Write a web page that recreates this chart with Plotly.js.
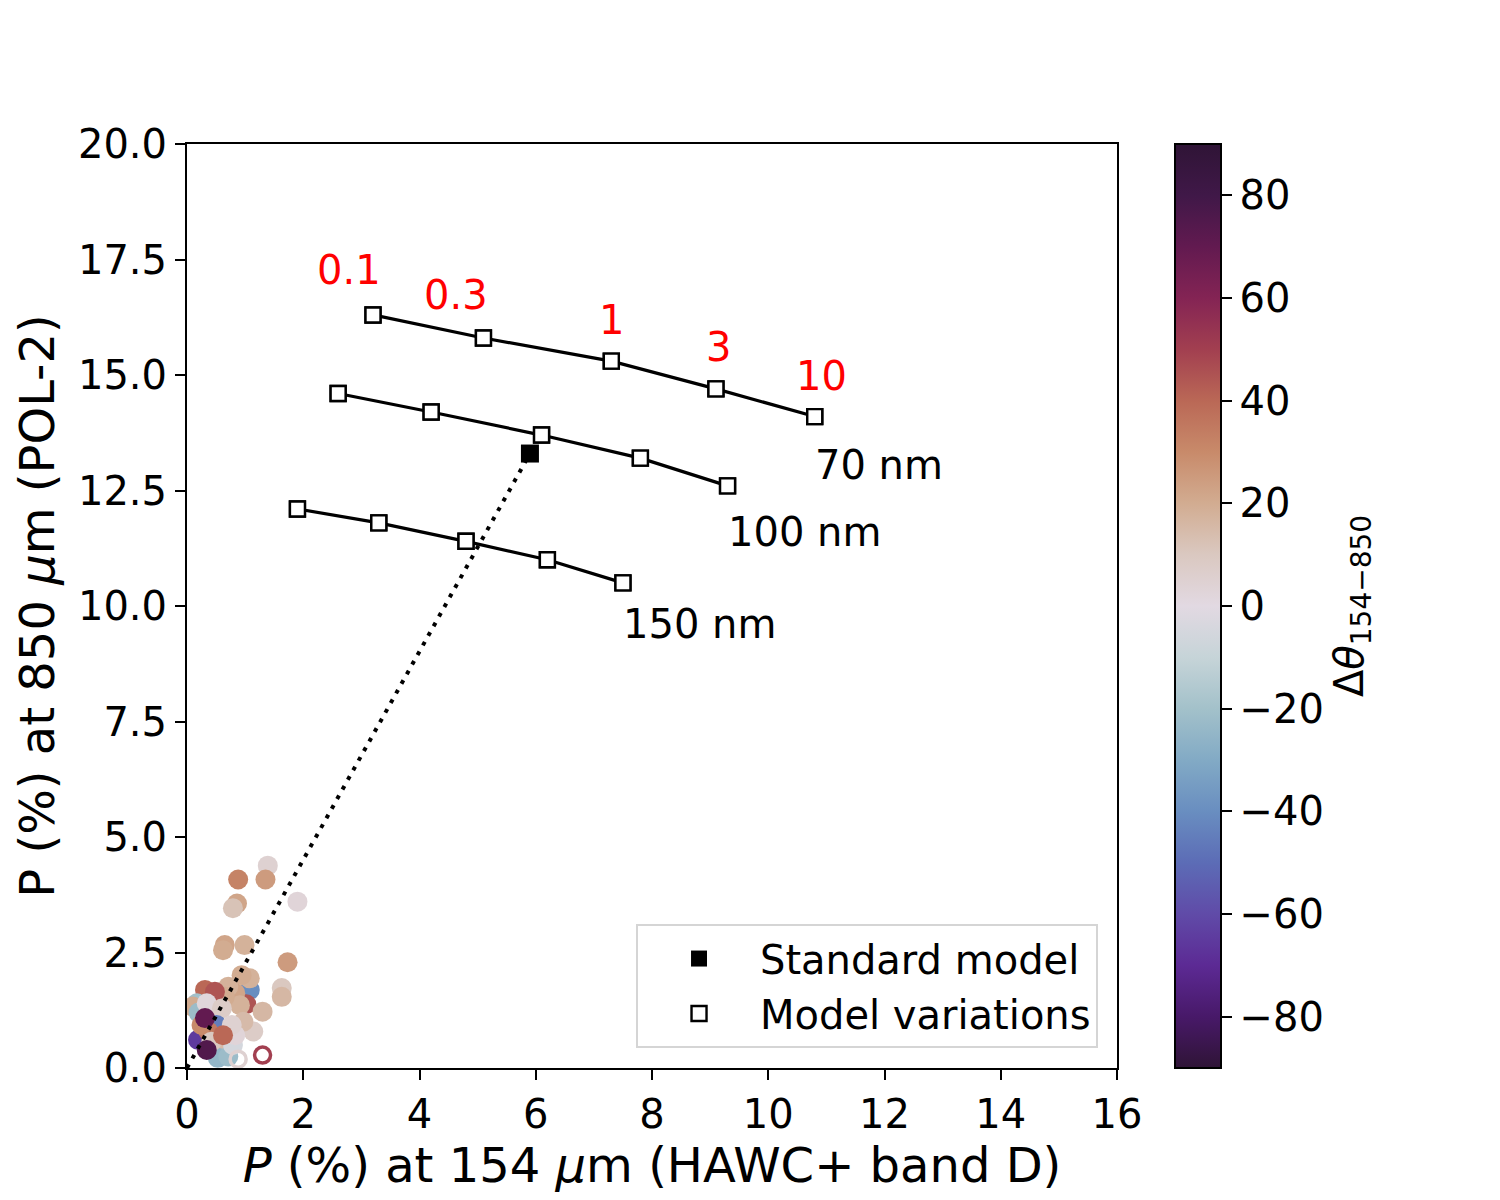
<!DOCTYPE html>
<html>
<head>
<meta charset="utf-8">
<script src="https://cdn.plot.ly/plotly-3.0.1.min.js"></script>
<style>html,body{margin:0;padding:0;background:#fff;}</style>
</head>
<body>
<div id="chart" style="width:1500px;height:1200px;"></div>
<script>
// Observed points: P at 154 um, P at 850 um, angle difference
const obsX = [1.08, 1.02, 1.39, 0.88, 1.35, 0.86, 0.79, 1.90, 0.65, 0.62, 0.99, 1.73, 1.63, 1.63, 1.30, 1.14,
              1.08, 0.94, 0.83, 0.91, 0.97, 0.71, 0.65, 0.31, 0.48, 0.17, 0.10, 0.20, 0.34, 0.60,
              0.51, 0.19, 0.51, 0.53, 0.71, 0.79, 0.83, 0.77, 0.37, 0.25, 0.42, 0.34, 0.31, 0.62];
const obsY = [1.69, 1.38, 4.38, 4.08, 4.08, 3.56, 3.46, 3.60, 2.66, 2.55, 2.66, 2.29, 1.73, 1.54, 1.22, 0.79,
              1.94, 2.01, 1.62, 1.36, 1.00, 1.76, 1.54, 1.69, 1.65, 1.40, 1.33, 1.20, 1.40, 1.29,
              0.93, 0.61, 0.39, 0.22, 0.25, 0.50, 0.71, 0.93, 0.79, 0.93, 0.57, 0.39, 1.08, 0.71];
const obsDTheta = [-40, 45, 5, 32, 25, 22, 12, 3, 22, 20, 18, 25, 10, 16, 16, 8,
                   18, 20, 22, 18, 15, 18, 20, 40, 45, -20, 20, -22, 2, 8,
                   -45, -65, 15, -25, -22, -5, 3, 5, 35, 30, 10, 75, 70, 40];
// Hollow (flagged) points
const hollowX = [1.30, 0.88];
const hollowY = [0.28, 0.19];
const hollowDTheta = [50, 5];

// Model variation tracks (grain sizes)
const m70X = [3.2, 5.1, 7.3, 9.1, 10.8];
const m70Y = [16.3, 15.8, 15.3, 14.7, 14.1];
const m100X = [2.6, 4.2, 6.1, 7.8, 9.3];
const m100Y = [14.6, 14.2, 13.7, 13.2, 12.6];
const m150X = [1.9, 3.3, 4.8, 6.2, 7.5];
const m150Y = [12.1, 11.8, 11.4, 11.0, 10.5];
const trackNames = ["70 nm", "100 nm", "150 nm"];
const trackLabelX = [10.8, 9.3, 7.5];
const trackLabelY = [13.05, 11.6, 9.6];

// Standard model
const stdX = [5.9];
const stdY = [13.3];
// Proportional (dotted) line through origin and the standard model
const dotX = [0, 5.9];
const dotY = [0, 13.3];

// Red parameter labels above the 70 nm track
const parLabels = ["0.1", "0.3", "1", "3", "10"];
const parLabelX = [2.79, 4.63, 7.31, 9.14, 10.92];
const parLabelY = [17.27, 16.73, 16.19, 15.61, 14.98];

const colorTicks = [-80, -60, -40, -20, 0, 20, 40, 60, 80];
const xTicks = [0, 2, 4, 6, 8, 10, 12, 14, 16];
const yTicks = [0, 2.5, 5, 7.5, 10, 12.5, 15, 17.5, 20];

const FONT = "DejaVu Sans, Liberation Sans, sans-serif";

const twilightShifted = [
  [0.000, "rgb(47,20,54)"],
  [0.056, "rgb(72,25,105)"],
  [0.111, "rgb(92,42,148)"],
  [0.167, "rgb(96,75,168)"],
  [0.222, "rgb(92,108,182)"],
  [0.278, "rgb(105,142,192)"],
  [0.333, "rgb(130,170,197)"],
  [0.389, "rgb(163,193,202)"],
  [0.444, "rgb(198,212,216)"],
  [0.500, "rgb(226,217,226)"],
  [0.556, "rgb(218,200,192)"],
  [0.611, "rgb(210,172,145)"],
  [0.667, "rgb(200,138,106)"],
  [0.722, "rgb(186,104,86)"],
  [0.778, "rgb(162,63,80)"],
  [0.833, "rgb(132,36,84)"],
  [0.889, "rgb(98,26,80)"],
  [0.944, "rgb(64,24,72)"],
  [1.000, "rgb(47,20,54)"]
];

const traces = [];
traces.push({
  x: obsX, y: obsY, type: "scatter", mode: "markers", showlegend: false, hoverinfo: "skip",
  marker: {symbol: "circle", size: 20, color: obsDTheta, coloraxis: "coloraxis", line: {width: 0}}
});
traces.push({
  x: hollowX, y: hollowY, type: "scatter", mode: "markers", showlegend: false, hoverinfo: "skip",
  marker: {symbol: "circle-open", size: 16, color: hollowDTheta, coloraxis: "coloraxis", line: {width: 3.5}}
});
traces.push({
  x: dotX, y: dotY, type: "scatter", mode: "lines", showlegend: false, hoverinfo: "skip",
  line: {color: "black", width: 4, dash: "4px,7px"}
});
[[m70X, m70Y], [m100X, m100Y], [m150X, m150Y]].forEach(function (t) {
  traces.push({
    x: t[0], y: t[1], type: "scatter", mode: "lines+markers", showlegend: false, hoverinfo: "skip",
    line: {color: "black", width: 3.2},
    marker: {symbol: "square", size: 15, color: "white", line: {color: "black", width: 2.4}}
  });
});
traces.push({
  x: m70X.concat(m100X, m150X), y: m70Y.concat(m100Y, m150Y), type: "scatter", mode: "markers",
  name: "Model variations", legendrank: 2, hoverinfo: "skip",
  marker: {symbol: "square", size: 15, color: "white", line: {color: "black", width: 2.4}}
});
traces.push({
  x: stdX, y: stdY, type: "scatter", mode: "markers", name: "Standard model", legendrank: 1, hoverinfo: "skip",
  marker: {symbol: "square", size: 18, color: "black", line: {width: 0}}
});

const annotations = [];
parLabels.forEach(function (t, i) {
  annotations.push({x: parLabelX[i], y: parLabelY[i], xref: "x", yref: "y", text: t, showarrow: false,
    xanchor: "center", yanchor: "middle", font: {family: FONT, size: 40, color: "#ff0000"}});
});
trackNames.forEach(function (t, i) {
  annotations.push({x: trackLabelX[i], y: trackLabelY[i], xref: "x", yref: "y", text: t, showarrow: false,
    xanchor: "left", yanchor: "middle", xshift: -2, font: {family: FONT, size: 40, color: "black"}});
});

const layout = {
  width: 1500, height: 1200,
  paper_bgcolor: "white", plot_bgcolor: "white",
  margin: {l: 187, r: 383, t: 144, b: 132, pad: 0},
  font: {family: FONT, size: 40, color: "black"},
  xaxis: {
    range: [0, 16], tickvals: xTicks, ticktext: xTicks.map(String),
    showgrid: false, zeroline: false, showline: true, linecolor: "black", linewidth: 2, mirror: true,
    ticks: "outside", ticklen: 10, tickwidth: 2, tickcolor: "black",
    tickfont: {family: FONT, size: 40, color: "black"},
    title: {text: "<i>P</i> (%) at 154 <i>μ</i>m (HAWC+ band D)", font: {family: FONT, size: 48, color: "black"}, standoff: 12},
    automargin: false
  },
  yaxis: {
    range: [0, 20], tickvals: yTicks, ticktext: yTicks.map(function (v) { return v.toFixed(1); }),
    showgrid: false, zeroline: false, showline: true, linecolor: "black", linewidth: 2, mirror: true,
    ticks: "outside", ticklen: 10, tickwidth: 2, tickcolor: "black",
    tickfont: {family: FONT, size: 40, color: "black"},
    title: {text: "P (%) at 850 <i>μ</i>m (POL-2)", font: {family: FONT, size: 48, color: "black"}, standoff: 8},
    automargin: false
  },
  coloraxis: {
    cmin: -90, cmax: 90, colorscale: twilightShifted,
    colorbar: {
      x: 1.0624, xanchor: "left", xref: "paper", y: 0.5, yanchor: "middle", yref: "paper",
      len: 1, lenmode: "fraction", thickness: 46, thicknessmode: "pixels",
      xpad: 0, ypad: 0, outlinewidth: 2, outlinecolor: "black",
      tickvals: colorTicks, ticktext: colorTicks.map(function (v) { return v < 0 ? "\u2212" + Math.abs(v) : String(v); }),
      ticks: "outside", ticklen: 10, tickwidth: 2, tickcolor: "black",
      tickfont: {family: FONT, size: 40, color: "black"},
      title: {text: "Δ<i>θ</i><sub>154\u2212850</sub>", side: "right", font: {family: FONT, size: 40, color: "black"}}
    }
  },
  legend: {
    x: 0.9796, y: 0.0216, xanchor: "right", yanchor: "bottom",
    bgcolor: "rgba(255,255,255,0.85)", bordercolor: "#d5d5d5", borderwidth: 2,
    itemwidth: 112, font: {family: FONT, size: 40, color: "black"}
  },
  annotations: annotations,
  showlegend: true
};

Plotly.newPlot("chart", traces, layout, {staticPlot: true, displayModeBar: false});
</script>
</body>
</html>
